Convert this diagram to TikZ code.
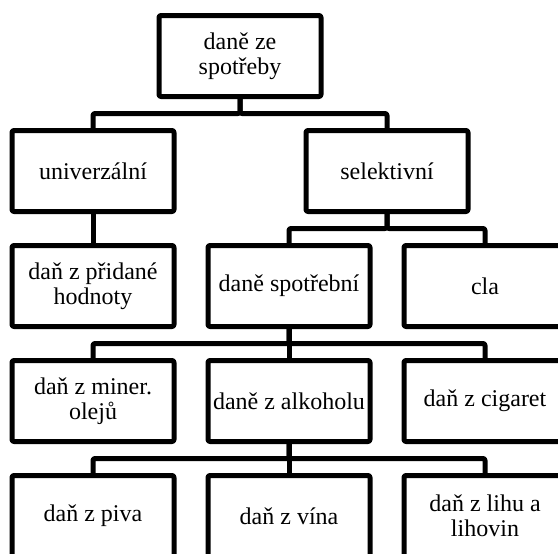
\documentclass[tikz,border=0pt]{standalone}
\usepackage{fontspec}
\setmainfont{Liberation Serif}
\usepackage{tikz}
\usetikzlibrary{positioning}
\tikzset{every picture/.style={line width=2.5pt, line join=round}, node distance=17pt, branch/.style={rounded corners=1pt}}

\begin{document}
\begin{tikzpicture}[every node/.style={draw, rectangle, rounded corners=1pt, minimum width=81pt, minimum height=40.5pt, inner sep=2pt, outer sep=0pt, align=center, font=\fontsize{12}{12.5}\selectfont}]
	\useasboundingbox (0,0) rectangle (279pt,-276.5pt);
	\node (univerzalni) at (46.5pt,-85.5pt) {univerzální};
	\node[below=of univerzalni] (dph) {daň z přidané\\hodnoty};
	\node[below=of dph] (oleje) {daň z miner.\\olejů};
	\node[below=of oleje] (pivo) {daň z piva};
	\node[right=of oleje] (alkohol) {daně z alkoholu};
	\node[right=of alkohol] (cigarety) {daň z cigaret};
	\node[above=of alkohol] (spotrebni) {daně spotřební};
	\node[above=of cigarety] (cla) {cla};
	\node[below=of alkohol] (vino) {daň z vína};
	\node[below=of cigarety] (lih) {daň z lihu a\\lihovin};
	\node[above=of cla, xshift=-49pt] (selektivni) {selektivní};
	\node[above=of univerzalni, xshift=73.5pt] (spotreba) {daně ze\\spotřeby};
	% vetve stromu
	\draw[branch] (spotreba.south) -- ++(0,-8.5pt) -| (univerzalni.north);
	\draw[branch] (spotreba.south) -- ++(0,-8.5pt) -| (selektivni.north);
	\draw (univerzalni) -- (dph);
	\draw[branch] (selektivni.south) -- ++(0,-8.5pt) -| (spotrebni.north);
	\draw[branch] (selektivni.south) -- ++(0,-8.5pt) -| (cla.north);
	\foreach \n in {oleje, alkohol, cigarety}
		\draw[branch] (spotrebni.south) -- ++(0,-8.5pt) -| (\n.north);
	\foreach \n in {pivo, vino, lih}
		\draw[branch] (alkohol.south) -- ++(0,-8.5pt) -| (\n.north);
\end{tikzpicture}
\end{document}
